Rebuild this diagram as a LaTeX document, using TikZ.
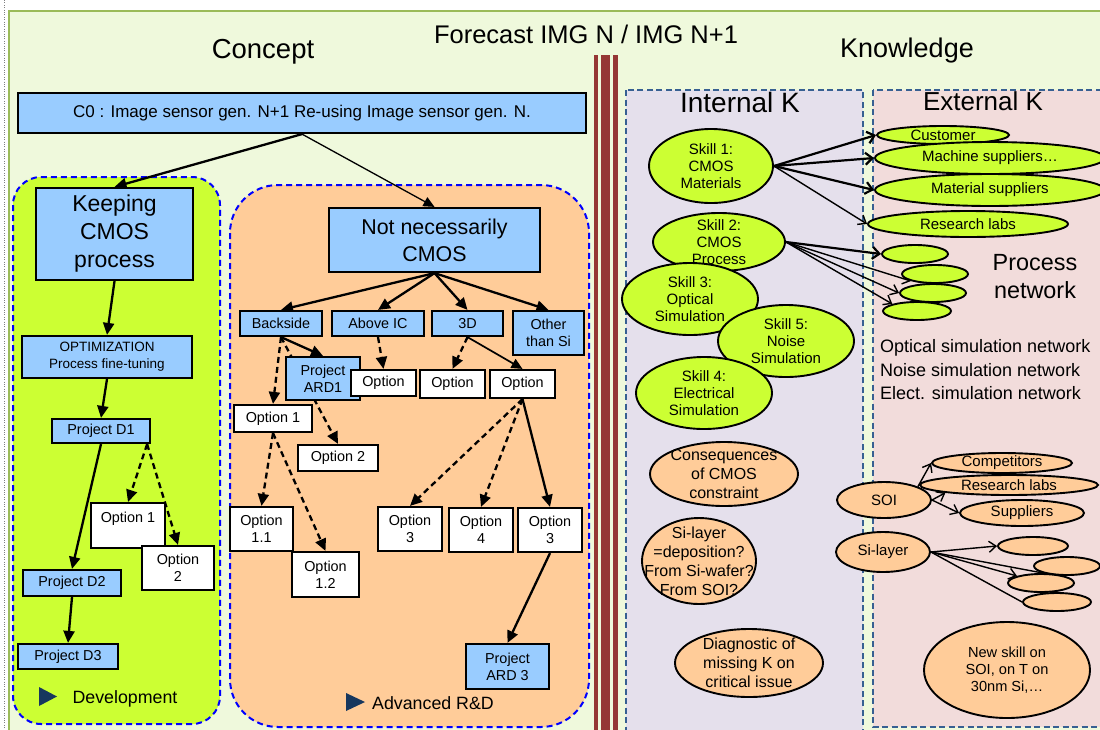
\documentclass[tikz,border=0pt]{standalone}
\usepackage{fontspec}
\setmainfont{Liberation Sans}
\usepackage{xcolor}
\usepackage{tikz}
\usetikzlibrary{positioning,shapes,arrows.meta}

\definecolor{bgpale}{HTML}{EFF9DC}
\definecolor{frameg}{HTML}{9BBB59}
\definecolor{limeg}{HTML}{CCFF33}
\definecolor{peach}{HTML}{FFCC99}
\definecolor{skyb}{HTML}{99CCFF}
\definecolor{lavk}{HTML}{E5E0EC}
\definecolor{pinkk}{HTML}{F2DCDB}
\definecolor{steelk}{HTML}{376092}
\definecolor{wine}{HTML}{953735}
\definecolor{navyt}{HTML}{17375E}

\pgfdeclarelayer{back}
\pgfdeclarelayer{edges}
\pgfsetlayers{back,edges,main}

\newcommand{\fsz}[2]{\fontsize{#1}{#2}\selectfont}

\begin{document}
\begin{tikzpicture}
			[x=1pt, y=-1pt,
			box/.style={draw=black, line width=2.2pt, fill=skyb, inner sep=0pt,
				align=center, font=\fsz{14.4}{17}},
			opt/.style={box, fill=white},
			ell/.style={ellipse, draw=black, line width=1.9pt, inner sep=0pt},
			gell/.style={ell, fill=limeg},
			oell/.style={ell, fill=peach},
			lt/.style={align=center, inner sep=0pt, font=\fsz{15}{16.7}},
			olt/.style={align=center, inner sep=0pt, font=\fsz{16}{19}},
			txt/.style={align=center, inner sep=0pt},
			zone/.style={draw=blue, line width=2pt, dash pattern=on 6pt off 4pt},
			kzone/.style={draw=steelk, line width=1.8pt, dash pattern=on 6pt off 3.5pt},
			arr/.style={line width=2.3pt, -{Triangle[length=12pt,width=11pt]}},
			tarr/.style={line width=1.3pt, -{Triangle[length=11pt,width=10pt]}},
			darr/.style={arr, dash pattern=on 6pt off 4pt},
			karr/.style={line width=2.2pt, -{Straight Barb[length=7pt,width=12pt]}},
			tkarr/.style={line width=1.4pt, -{Straight Barb[length=7pt,width=11pt]}},
			]
			\useasboundingbox (0,0) rectangle (1100,729);
			\clip (0,0) rectangle (1100,729);
			
			% background, divider and zones
			\begin{pgfonlayer}{back}
				\fill[white] (0,0) rectangle (1100,729);
				\draw[frameg, line width=2pt, fill=bgpale] (9,11) rectangle (1115,745);
				\draw[gray, dotted] (4.5,0) -- (4.5,729);
				\fill[wine] (593.5,55) rectangle (598,745);
				\fill[wine] (601,55) rectangle (609.5,745);
				\fill[wine] (613,55) rectangle (617.5,745);
				\draw[zone, fill=limeg, rounded corners=28pt] (13,177) rectangle (220,724);
				\draw[zone, fill=peach, rounded corners=48pt] (230,185) rectangle (589,727);
				\draw[kzone, fill=lavk] (626,90) rectangle (863,745);
				\draw[kzone, fill=pinkk] (873,90) rectangle (1115,727);
			\end{pgfonlayer}
			
			% titles
			\node[txt, anchor=base, font=\fsz{27.5}{30}] (tcon) at (263,58) {Concept};
			\node[txt, anchor=base, font=\fsz{25.5}{30}] (tfor) at (586,43) {Forecast IMG N / IMG N+1};
			\node[txt, anchor=base, font=\fsz{27}{30}] (tknow) at (907,57) {Knowledge};
			\node[txt, anchor=base, font=\fsz{28}{30}] (tint) at (740,112) {Internal K};
			\node[txt, anchor=base, font=\fsz{26}{30}] (text) at (983,110) {External K};
			
			% development
			\node[box, minimum width=568, minimum height=40, font=\fsz{17}{20}] (C0) at (302,113)
				{C0 : Image sensor gen. N+1 Re-using Image sensor gen. N.};
			\node[box, minimum width=157, minimum height=92, font=\fsz{23}{28}] (keep) at (114.5,234)
				{Keeping\\CMOS\\process};
			\node[box, minimum width=170, minimum height=42, font=\fsz{13.5}{17}] (optim) at (107,357)
				{OPTIMIZATION\\Process fine-tuning};
			\node[box, minimum width=98, minimum height=24] (D1) at (101,431) {Project D1};
			\node[opt, minimum width=74, minimum height=45] (dopt1) at (128,525.5) {Option 1\\\mbox{}};
			\node[opt, minimum width=72, minimum height=44] (dopt2) at (178,568) {Option\\2};
			\node[box, minimum width=98, minimum height=26] (D2) at (72,583) {Project D2};
			\node[box, minimum width=100, minimum height=25] (D3) at (68,656.5) {Project D3};
			\fill[navyt] (39,687) -- (39,706) -- (57,696.5) -- cycle;
			\node[txt, anchor=base, font=\fsz{17.8}{20}] (tdev) at (125,703) {Development};
			
			% advanced R&D
			\node[box, minimum width=211, minimum height=64, font=\fsz{21.4}{27}] (nnc) at (434.5,240)
				{Not necessarily\\CMOS};
			\node[box, minimum width=82, minimum height=25] (bside) at (281,323.5) {Backside};
			\node[box, minimum width=92, minimum height=25] (aic) at (378,323.5) {Above IC};
			\node[box, minimum width=71, minimum height=25] (td) at (467.5,323.5) {3D};
			\node[box, minimum width=71, minimum height=44] (oths) at (548.5,333) {Other\\than Si};
			\node[box, minimum width=74, minimum height=43] (pard1) at (323,378.5) {Project\\ARD1};
			\node[opt, minimum width=65, minimum height=26] (oaic) at (383.5,383) {Option};
			\node[opt, minimum width=65, minimum height=28] (otda) at (452.5,384) {Option};
			\node[opt, minimum width=65, minimum height=28] (otdb) at (522.5,384) {Option};
			\node[opt, minimum width=78, minimum height=27] (aopt1) at (273,418.5) {Option 1};
			\node[opt, minimum width=80, minimum height=26] (aopt2) at (338,458) {Option 2};
			\node[opt, minimum width=63, minimum height=44] (o11) at (261.5,529) {Option\\1.1};
			\node[opt, minimum width=67, minimum height=45] (o12) at (325.5,574.5) {Option\\1.2};
			\node[opt, minimum width=64, minimum height=44] (o3l) at (410,529) {Option\\3};
			\node[opt, minimum width=64, minimum height=44] (o4) at (481,530) {Option\\4};
			\node[opt, minimum width=64, minimum height=44] (o3r) at (550,530) {Option\\3};
			\node[box, minimum width=83, minimum height=45] (pard3) at (507.5,666.5) {Project\\ARD 3};
			\fill[navyt] (346,693) -- (346,711) -- (365,702) -- cycle;
			\node[txt, anchor=base, font=\fsz{17.8}{20}] (tard) at (433,709) {Advanced R\&D};
			
			% internal K
			\node[gell, minimum width=124, minimum height=74,
				label={[lt]center:{Skill 1:\\CMOS\\Materials}}] (sk1) at (711,166) {};
			\node[gell, minimum width=132, minimum height=58,
				label={[lt]center:{Skill 2:\\CMOS\\Process}}] (sk2) at (719,242) {};
			\node[gell, minimum width=136, minimum height=72,
				label={[lt]center:{Skill 3:\\Optical\\Simulation}}] (sk3) at (690,299) {};
			\node[gell, minimum width=136, minimum height=72,
				label={[lt]center:{Skill 5:\\Noise\\Simulation}}] (sk5) at (786,341) {};
			\node[gell, minimum width=136, minimum height=72,
				label={[lt]center:{Skill 4:\\Electrical\\Simulation}}] (sk4) at (704,393) {};
			\node[oell, minimum width=148, minimum height=64,
				label={[olt]center:{Consequences\\of CMOS\\constraint}}] (cons) at (724,474) {};
			\node[oell, minimum width=114, minimum height=86,
				label={[olt]center:{Si-layer\\=deposition?\\From Si-wafer?\\From SOI?}}] (silq) at (699,561) {};
			\node[oell, minimum width=148, minimum height=68,
				label={[olt]center:{Diagnostic of\\missing K on\\critical issue}}] (diag) at (749,663) {};
			
			% external K
			\node[gell, minimum width=132, minimum height=18,
				label={[lt]center:{Customer}}] (cust) at (943,135) {};
			\node[gell, minimum width=230, minimum height=32,
				label={[lt]center:{Machine suppliers…}}] (mach) at (990,158) {};
			\node[gell, minimum width=230, minimum height=32,
				label={[lt]center:{Material suppliers}}] (matl) at (990,190) {};
			\node[gell, minimum width=200, minimum height=26,
				label={[lt]center:{Research labs}}] (rlab) at (968,224) {};
			\node[gell, minimum width=66, minimum height=18] (pe1) at (915,254) {};
			\node[gell, minimum width=66, minimum height=18] (pe2) at (935,274) {};
			\node[gell, minimum width=66, minimum height=18] (pe3) at (933,293) {};
			\node[gell, minimum width=68, minimum height=18] (pe4) at (917,311) {};
			\node[txt, font=\fsz{23.4}{28}] (pnet) at (1035,277) {Process\\network};
			\node[txt, anchor=west, align=left, font=\fsz{18}{23.5}] (nets) at (880,370)
				{Optical simulation network\\Noise simulation network\\Elect. simulation network};
			\node[oell, minimum width=94, minimum height=36,
				label={[lt]center:{SOI}}] (soi) at (884,500) {};
			\node[oell, minimum width=94, minimum height=40,
				label={[lt]center:{Si-layer}}] (sil) at (883,552) {};
			\node[oell, minimum width=140, minimum height=20,
				label={[lt]center:{Competitors}}] (comp) at (1002,463) {};
			\node[oell, minimum width=178, minimum height=20,
				label={[lt]center:{Research labs}}] (rlab2) at (1009,485) {};
			\node[oell, minimum width=124, minimum height=26,
				label={[lt]center:{Suppliers}}] (supp) at (1022,513) {};
			\node[oell, minimum width=70, minimum height=18] (so1) at (1033,546) {};
			\node[oell, minimum width=66, minimum height=18] (so2) at (1067,566) {};
			\node[oell, minimum width=66, minimum height=18] (so3) at (1041,583) {};
			\node[oell, minimum width=68, minimum height=18] (so4) at (1057,602) {};
			\node[oell, minimum width=166, minimum height=96,
				label={[lt, font=\fsz{14.6}{17}]center:{New skill on\\SOI, on T on\\30nm Si,…}}] (nsk) at (1007,670) {};
			
			% connectors
			\begin{pgfonlayer}{edges}
				\draw[arr] (C0.south) -- (keep.north);
				\draw[tarr] (C0.south) -- (nnc.north);
				\draw[arr] (keep.south) -- (optim.north);
				\draw[arr] (optim.south) -- (D1.north);
				\draw[darr] ([xshift=-4pt]D1.south east) -- (dopt1.north);
				\draw[darr] ([xshift=-4pt]D1.south east) -- (dopt2.north);
				\draw[arr] (D1.south) -- (D2.north);
				\draw[arr] (D2.south) -- (D3.north);
				
				\draw[arr] (nnc.south) -- (bside.north);
				\draw[arr] (nnc.south) -- (aic.north);
				\draw[arr] (nnc.south) -- (td.north);
				\draw[arr] (nnc.south) -- (oths.north);
				\draw[arr] (bside.south) -- (pard1.north);
				\draw[darr] (bside.south) -- (aopt1.north);
				\draw[darr] (bside.south) -- (aopt2.north);
				\draw[darr] (aic.south) -- (oaic.north);
				\draw[darr] (td.south) -- (otda.north);
				\draw[tarr, line width=1.7pt] (td.south) -- (otdb.north);
				\draw[darr] (aopt1.south) -- (o11.north);
				\draw[darr] (aopt1.south) -- (o12.north);
				\draw[darr] (otdb.south) -- (o3l.north);
				\draw[darr] (otdb.south) -- (o4.north);
				\draw[arr] (otdb.south) -- (o3r.north);
				\draw[arr] (o3r.south) -- (pard3.north);
				
				\draw[karr] (sk1.east) -- (cust.west);
				\draw[karr] (sk1.east) -- (mach.west);
				\draw[karr] (sk1.east) -- (matl.west);
				\draw[tkarr] (sk1.east) -- (rlab.west);
				\draw[karr] (sk2.east) -- (pe1.west);
				\draw[tkarr] (sk2.east) -- (pe2.south west);
				\draw[tkarr] (sk2.east) -- (pe3.west);
				\draw[tkarr] (sk2.east) -- (pe4.north west);
				
				\draw[tkarr] (soi.north east) -- (comp.west);
				\draw[tkarr] (soi.east) -- (rlab2.south west);
				\draw[tkarr] (soi.east) -- (supp.west);
				\draw[tkarr] (sil.east) -- (so1.west);
				\draw[tkarr] (sil.east) -- (so2.south west);
				\draw[tkarr] (sil.east) -- (so3.north west);
				\draw[line width=1.4pt] (sil.east) -- (so4.west);
			\end{pgfonlayer}
			
		\end{tikzpicture}
\end{document}
